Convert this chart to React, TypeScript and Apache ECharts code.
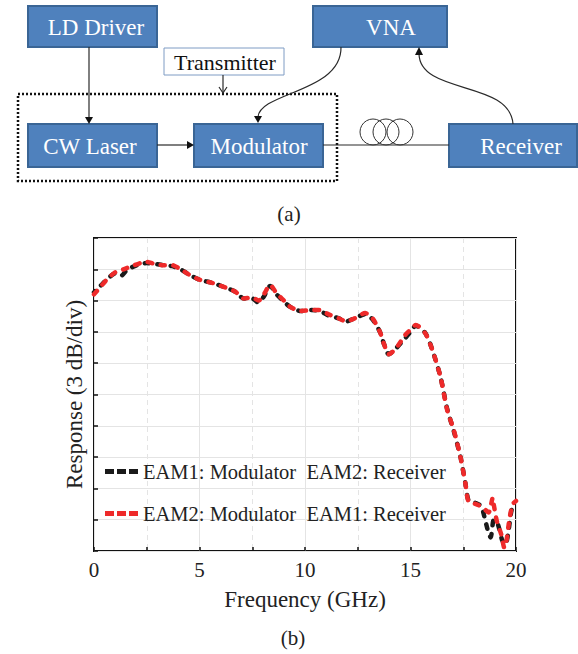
import React, { useEffect, useRef } from "react";
import * as echarts from "echarts";

// ---- Data ----
const nameBlack = "EAM1: Modulator  EAM2: Receiver";
const nameRed = "EAM2: Modulator  EAM1: Receiver";

const freqBlack = [0.0, 0.3, 0.6, 1.0, 1.3, 1.5, 1.8, 2.2, 2.5, 2.9, 3.3, 3.7, 4.1, 4.5, 5.0, 5.6, 6.3, 6.7, 7.1, 7.5, 7.8, 8.05, 8.35, 8.65, 9.0, 9.3, 9.8, 10.3, 10.7, 11.1, 11.6, 11.95, 12.35, 12.85, 13.2, 13.55, 13.75, 13.97, 14.3, 14.75, 15.0, 15.25, 15.7, 16.03, 16.42, 16.74, 17.05, 17.37, 17.6, 17.76, 18.1, 18.35, 18.5, 18.7, 18.8, 18.95, 19.15, 19.35, 19.5, 19.65, 19.8, 20.0];
const respBlack = [24.8, 25.4, 26.0, 26.6, 26.4, 26.8, 27.2, 27.5, 27.6, 27.5, 27.4, 27.3, 27.0, 26.5, 26.0, 25.7, 25.2, 24.85, 24.2, 24.2, 23.8, 24.4, 25.4, 24.6, 23.9, 23.4, 23.0, 23.1, 23.0, 22.6, 22.3, 22.0, 22.3, 22.7, 22.2, 21.0, 19.8, 18.85, 19.4, 20.4, 21.0, 21.6, 20.9, 19.3, 16.7, 13.6, 11.5, 9.0, 6.5, 4.8, 4.6, 4.3, 3.3, 1.7, 1.3, 3.0, 2.5, 1.0, 0.6, 2.0, 4.0, 4.6];

const freqRed = [0.0, 0.3, 0.6, 1.0, 1.4, 1.8, 2.2, 2.5, 2.9, 3.3, 3.7, 4.1, 4.5, 5.0, 5.6, 6.3, 6.7, 7.1, 7.5, 7.8, 8.05, 8.35, 8.65, 9.0, 9.3, 9.8, 10.3, 10.7, 11.1, 11.6, 11.95, 12.35, 12.85, 13.2, 13.55, 13.75, 13.97, 14.3, 14.75, 15.0, 15.25, 15.7, 16.03, 16.42, 16.74, 17.05, 17.37, 17.6, 17.76, 18.1, 18.4, 18.7, 18.9, 18.95, 19.1, 19.3, 19.45, 19.55, 19.7, 19.85, 20.0];
const respRed = [24.6, 25.3, 26.0, 26.7, 27.0, 27.3, 27.6, 27.7, 27.5, 27.4, 27.4, 27.0, 26.5, 26.0, 25.7, 25.2, 24.85, 24.2, 24.3, 24.0, 24.6, 25.5, 24.7, 24.0, 23.4, 23.0, 23.1, 23.1, 22.7, 22.3, 22.0, 22.3, 22.8, 22.3, 21.0, 19.8, 18.85, 19.4, 20.7, 21.2, 21.66, 20.87, 19.3, 16.7, 13.5, 11.6, 9.0, 6.5, 4.7, 4.5, 4.2, 3.7, 5.1, 4.4, 2.8, 1.6, 0.3, 1.0, 3.2, 4.5, 4.8];

const xMin = 0;
const xMax = 20;
const yMin = 0;
const yMax = 30;
const yStep = 3;

const SERIF = "'Liberation Serif', 'Times New Roman', serif";
const BOX_FILL = "#4f81bd";
const BOX_STROKE = "#3a6595";
const LINK = "#2a2a2a";
const DASH_ICON = "path://M0,0h9v5h-9z M12,0h9v5h-9z M24,0h9v5h-9z";

function box(x: number, y: number, w: number, h: number) {
  return {
    type: "rect",
    shape: { x, y, width: w, height: h },
    style: { fill: BOX_FILL, stroke: BOX_STROKE, lineWidth: 2 },
  };
}
function label(text: string, x: number, y: number, fill: string, size: number) {
  return {
    type: "text",
    x,
    y,
    style: { text, fill, fontSize: size, fontFamily: SERIF, align: "center", verticalAlign: "middle" },
  };
}
function line(x1: number, y1: number, x2: number, y2: number) {
  return { type: "line", shape: { x1, y1, x2, y2 }, style: { stroke: LINK, lineWidth: 1.2 } };
}
function head(points: number[][]) {
  return { type: "polygon", shape: { points }, style: { fill: "#111" } };
}

export default function App() {
  const ref = useRef<HTMLDivElement>(null);
  useEffect(() => {
    if (!ref.current) return;
    const chart = echarts.init(ref.current, undefined, { renderer: "svg" });
    const graphic: any[] = [
      {
        type: "rect",
        shape: { x: 18, y: 94, width: 319, height: 87 },
        style: { fill: "none", stroke: "#111", lineWidth: 2.5, lineDash: [2, 2] },
      },
      box(28, 6, 129, 41),
      box(313, 6, 134, 41),
      box(28, 124, 129, 43),
      box(194, 124, 129, 43),
      box(449, 124, 128, 43),
      label("LD Driver", 96, 27, "#fff", 23),
      label("VNA", 391, 27, "#fff", 23),
      label("CW Laser", 90, 146, "#fff", 23),
      label("Modulator", 259, 146, "#fff", 23),
      label("Receiver", 521, 146, "#fff", 23),
      {
        type: "rect",
        shape: { x: 164, y: 48, width: 120, height: 27 },
        style: { fill: "#fff", stroke: "#7f9cc4", lineWidth: 1 },
      },
      label("Transmitter", 225, 62, "#111", 22),
      line(223, 75, 223, 93),
      {
        type: "polyline",
        shape: { points: [[219, 87], [223, 93], [227, 87]] },
        style: { stroke: LINK, lineWidth: 1.2, fill: "none" },
      },
      line(89, 47, 89, 118),
      head([[85, 117], [93, 117], [89, 124]]),
      line(157, 145, 188, 145),
      head([[187, 141], [187, 149], [194, 145]]),
      line(323, 145, 449, 145),
      { type: "circle", shape: { cx: 373, cy: 132, r: 13 }, style: { fill: "none", stroke: "#333", lineWidth: 1 } },
      { type: "circle", shape: { cx: 386, cy: 132, r: 13 }, style: { fill: "none", stroke: "#333", lineWidth: 1 } },
      { type: "circle", shape: { cx: 400, cy: 132, r: 13 }, style: { fill: "none", stroke: "#333", lineWidth: 1 } },
      {
        type: "bezierCurve",
        shape: { x1: 341, y1: 47, cpx1: 342, cpy1: 92, cpx2: 260, cpy2: 92, x2: 258, y2: 117 },
        style: { stroke: LINK, lineWidth: 1.2, fill: "none" },
      },
      head([[254, 116], [262, 116], [258, 123]]),
      {
        type: "bezierCurve",
        shape: { x1: 513, y1: 124, cpx1: 510, cpy1: 80, cpx2: 420, cpy2: 95, x2: 419, y2: 54 },
        style: { stroke: LINK, lineWidth: 1.2, fill: "none" },
      },
      head([[415, 55], [423, 55], [419, 47]]),
      label("(a)", 289, 214, "#222", 21),
      label("(b)", 293, 638, "#222", 21),
    ];

    chart.setOption({
      animation: false,
      backgroundColor: "#fff",
      textStyle: { fontFamily: SERIF },
      graphic,
      grid: {
        left: 94,
        right: 62,
        top: 238,
        bottom: 103,
        show: true,
        borderColor: "#111",
        borderWidth: 2,
        containLabel: false,
      },
      legend: {
        orient: "vertical",
        left: 100,
        top: 456,
        itemWidth: 33,
        itemHeight: 5,
        itemGap: 21,
        textStyle: { fontSize: 20.5, color: "#222", fontFamily: SERIF },
        data: [
          { name: nameBlack, icon: DASH_ICON },
          { name: nameRed, icon: DASH_ICON },
        ],
      },
      xAxis: {
        type: "value",
        min: xMin,
        max: xMax,
        interval: 5,
        name: "Frequency (GHz)",
        nameLocation: "middle",
        nameGap: 37,
        nameTextStyle: { fontSize: 23, color: "#222", fontFamily: SERIF },
        axisLine: { show: false },
        axisTick: { show: true, inside: true, length: 4, lineStyle: { color: "#111", width: 1.5 } },
        minorTick: { show: true, splitNumber: 2, length: 4, lineStyle: { color: "#111", width: 1.5 } },
        axisLabel: { fontSize: 21, color: "#222", margin: 8, fontFamily: SERIF },
        splitLine: { show: true, lineStyle: { color: "#e4e4e4", width: 1 } },
        minorSplitLine: { show: true, lineStyle: { color: "#e4e4e4", width: 1, type: [5, 4] } },
      },
      yAxis: {
        type: "value",
        min: yMin,
        max: yMax,
        interval: yStep,
        name: "Response (3 dB/div)",
        nameLocation: "middle",
        nameGap: 8,
        nameTextStyle: { fontSize: 23, color: "#222", fontFamily: SERIF },
        axisLine: { show: false },
        axisTick: { show: true, inside: true, length: 4, lineStyle: { color: "#111", width: 1.5 } },
        axisLabel: { show: false },
        splitLine: { show: true, lineStyle: { color: "#e4e4e4", width: 1 } },
      },
      series: [
        {
          name: nameBlack,
          type: "line",
          symbol: "none",
          smooth: 0.25,
          data: freqBlack.map((f, i) => [f, respBlack[i]]),
          lineStyle: { color: "#1a1a1a", width: 4.5, type: [4.5, 8.5], cap: "round", dashOffset: 3 },
          itemStyle: { color: "#1a1a1a" },
          z: 2,
        },
        {
          name: nameRed,
          type: "line",
          symbol: "none",
          smooth: 0.25,
          data: freqRed.map((f, i) => [f, respRed[i]]),
          lineStyle: { color: "#ee2a2a", width: 4.5, type: [4.5, 8.5], cap: "round" },
          itemStyle: { color: "#ee2a2a" },
          z: 3,
        },
      ],
    });
    return () => chart.dispose();
  }, []);
  return (
    <div
      ref={ref}
      style={{ position: "fixed", left: 0, top: 0, width: 578, height: 654, background: "#fff" }}
    />
  );
}
